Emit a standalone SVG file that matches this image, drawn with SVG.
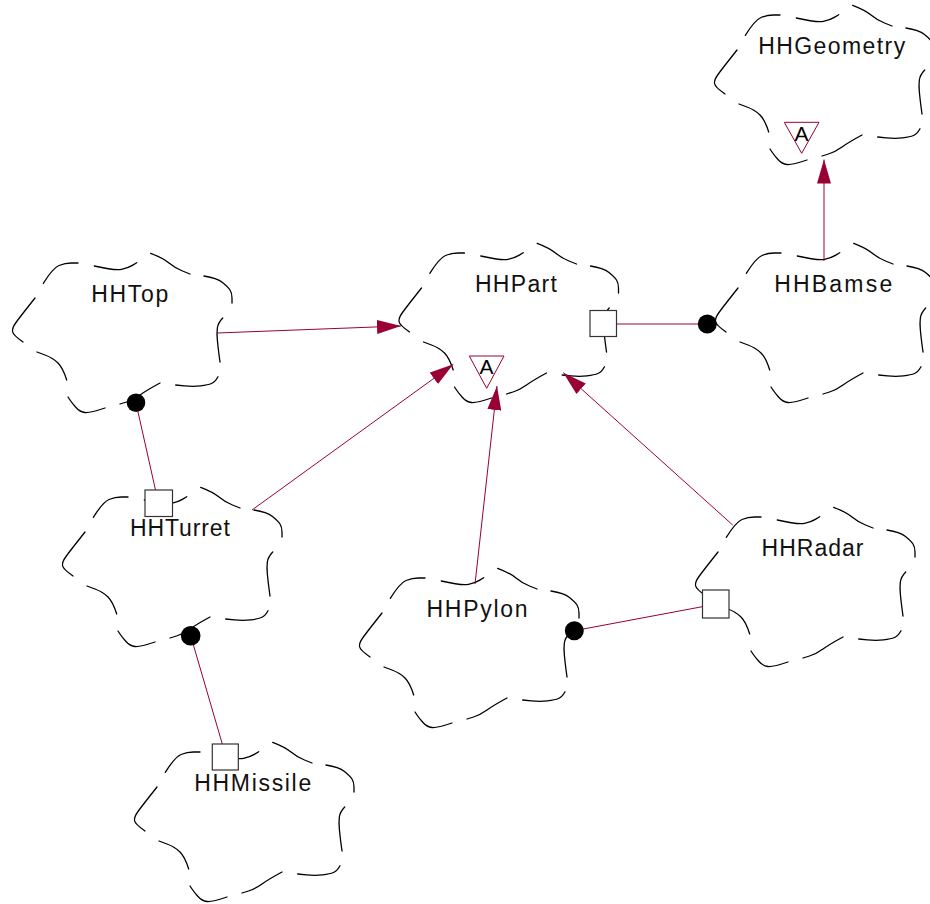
<svg xmlns="http://www.w3.org/2000/svg" xmlns:xlink="http://www.w3.org/1999/xlink" width="930" height="904" viewBox="0 0 930 904">
<style>
.cloud{fill:none;stroke:#000;stroke-width:1.3;stroke-linecap:round;stroke-linejoin:round}
.lbl{font-family:"Liberation Sans",Arial,Helvetica,sans-serif;font-size:23px;fill:#111}
.abs{font-family:"Liberation Sans",Arial,Helvetica,sans-serif;font-size:21px;fill:#000;text-anchor:middle}
.tri{fill:#fff;stroke:#990033;stroke-width:1}
.conn{fill:none;stroke:#990033;stroke-width:1}
.sq{fill:#fff;stroke:#333;stroke-width:1.2}
.dot{fill:#000}
</style>
<defs>
<g id="cloud" class="cloud">
<path d="M -87.2,-18.7 Q -77.5,-34 -71.5,-36.5 Q -65.5,-39 -59,-39 L -52.5,-39"/>
<path d="M -36.2,-36 Q -15.5,-31.3 -9,-32.65 Q -2.5,-34 1.85,-36.65 L 6.2,-39.3"/>
<path d="M 20.2,-48.7 Q 32.5,-44 38.5,-39 Q 44.5,-34 52,-31 L 59.5,-28"/>
<path d="M 73.5,-26 Q 86.5,-24 92,-19.5 Q 97.5,-15 99.5,-12 Q 101.5,-9 101.5,-4 L 101.5,1"/>
<path d="M 92.2,16 Q 87.5,21 86.85,26 Q 86.2,31 86.85,38 Q 87.5,45 88.5,52.5 L 89.5,60"/>
<path d="M 87.5,74.7 Q 84.5,80 81,81.5 Q 77.5,83 70,83.85 Q 62.5,84.7 53.85,83.85 L 45.2,83"/>
<path d="M 29.5,81 Q 16.5,88 9.5,93 Q 2.5,98 -4,100 L -10.5,102"/>
<path d="M -25.5,106 Q -40.5,111 -45.5,110.5 Q -50.5,110 -54.5,105.5 Q -58.5,101 -60.5,98 L -62.5,95"/>
<path d="M -63.8,78 Q -67.5,66 -72.5,61 Q -77.5,56 -85.5,53 L -93.5,50"/>
<path d="M -107.5,40 Q -117.5,33 -118,29.5 Q -118.5,26 -114.5,20.5 Q -110.5,15 -103,5.5 L -95.5,-4"/>
</g>
<marker id="arr" viewBox="0 0 24 14" refX="24" refY="7" markerWidth="24" markerHeight="14" markerUnits="userSpaceOnUse" orient="auto">
<path d="M0,0 L24,7 L0,14 z" fill="#990033"/>
</marker>
</defs>
<rect width="930" height="904" fill="#fff"/>

<g id="HHGeometry">
<use href="#cloud" xlink:href="#cloud" x="832.5" y="54"/>
<text class="lbl" x="758.2" y="54" textLength="147" lengthAdjust="spacing">HHGeometry</text>
<polygon class="tri" points="784.3,122.3 819,122.3 801.7,153.3"/>
<text class="abs" x="801.5" y="141">A</text>
</g>

<g id="HHPart">
<use href="#cloud" xlink:href="#cloud" x="517" y="292"/>
<text class="lbl" x="474.9" y="292" textLength="82" lengthAdjust="spacing">HHPart</text>
<polygon class="tri" points="469.3,356 504,356 486.7,388.3"/>
<text class="abs" x="486.6" y="374">A</text>
</g>

<g id="HHTop">
<use href="#cloud" xlink:href="#cloud" x="130.5" y="302"/>
<text class="lbl" x="91.2" y="302" textLength="77" lengthAdjust="spacing">HHTop</text>
</g>

<g id="HHBamse">
<use href="#cloud" xlink:href="#cloud" x="833.5" y="292"/>
<text class="lbl" x="774.2" y="292" textLength="118" lengthAdjust="spacing">HHBamse</text>
</g>

<g id="HHTurret">
<use href="#cloud" xlink:href="#cloud" x="180.5" y="536"/>
<text class="lbl" x="129.9" y="536" textLength="100" lengthAdjust="spacing">HHTurret</text>
</g>

<g id="HHRadar">
<use href="#cloud" xlink:href="#cloud" x="813.5" y="556"/>
<text class="lbl" x="761.5" y="556" textLength="102" lengthAdjust="spacing">HHRadar</text>
</g>

<g id="HHPylon">
<use href="#cloud" xlink:href="#cloud" x="477.5" y="617"/>
<text class="lbl" x="426.5" y="617" textLength="101" lengthAdjust="spacing">HHPylon</text>
</g>

<g id="HHMissile">
<use href="#cloud" xlink:href="#cloud" x="252.5" y="791"/>
<text class="lbl" x="194.2" y="791" textLength="117" lengthAdjust="spacing">HHMissile</text>
</g>

<g id="connectors">
<line class="conn" x1="217" y1="333" x2="401" y2="326" marker-end="url(#arr)"/>
<line class="conn" x1="252" y1="510" x2="453.3" y2="364.3" marker-end="url(#arr)"/>
<line class="conn" x1="475" y1="584" x2="497" y2="386" marker-end="url(#arr)"/>
<line class="conn" x1="732.7" y1="525" x2="563.3" y2="372.7" marker-end="url(#arr)"/>
<line class="conn" x1="824" y1="261" x2="824" y2="159.5" marker-end="url(#arr)"/>

<line class="conn" x1="616" y1="324" x2="707.3" y2="324"/>
<rect class="sq" x="590" y="310.5" width="26.5" height="26"/>
<circle class="dot" cx="707.3" cy="324" r="9.5"/>

<line class="conn" x1="136" y1="403" x2="155.5" y2="490"/>
<circle class="dot" cx="136" cy="402.7" r="9.3"/>
<rect class="sq" x="145" y="490" width="27.5" height="26.5"/>

<line class="conn" x1="190.7" y1="635.7" x2="222.3" y2="744"/>
<circle class="dot" cx="190.7" cy="635.7" r="9.8"/>
<rect class="sq" x="212.3" y="744" width="26" height="26"/>

<line class="conn" x1="574.3" y1="630.7" x2="702.3" y2="606.7"/>
<circle class="dot" cx="574.3" cy="630.7" r="9.5"/>
<rect class="sq" x="702.5" y="590" width="26.5" height="28"/>
</g>
</svg>
